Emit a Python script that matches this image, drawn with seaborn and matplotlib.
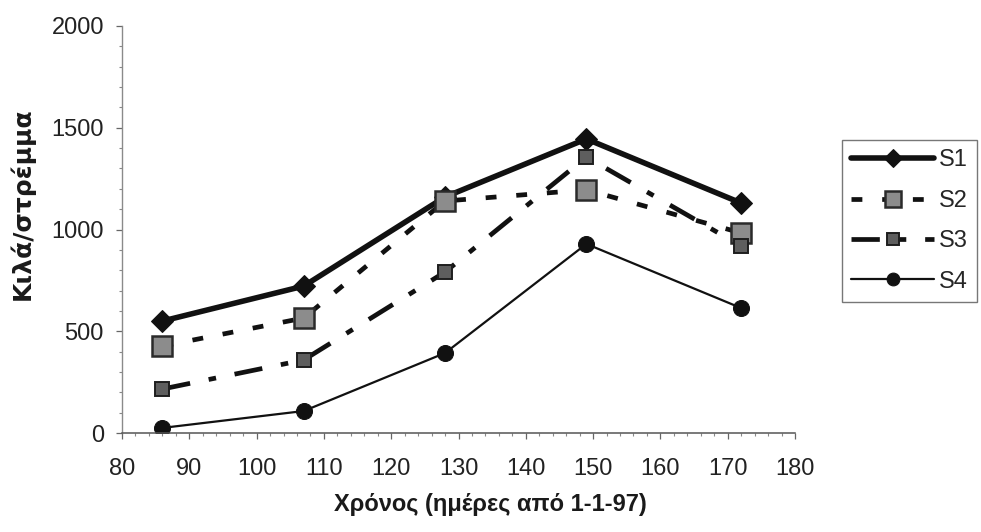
import matplotlib
matplotlib.use("Agg")
import matplotlib.pyplot as plt
import seaborn as sns
import pandas as pd
from matplotlib.ticker import MultipleLocator

days = [86, 107, 128, 149, 172]
s1 = [550, 722, 1160, 1445, 1130]
s2 = [427, 565, 1140, 1195, 983]
s3 = [216, 359, 791, 1356, 919]
s4 = [25, 108, 393, 929, 614]
series_names = ["S1", "S2", "S3", "S4"]

sns.set_theme(style="white")
plt.rcParams['font.family'] = ['Liberation Sans', 'DejaVu Sans']

W, H = 981, 532
fig = plt.figure(figsize=(W / 100, H / 100), dpi=100)
ax = fig.add_axes([122 / W, 1 - 433 / H, (795 - 122) / W, (433 - 26) / H])

ink = "#111111"
styles = {
    "S1": dict(color=ink, linewidth=4.0, linestyle="-", marker="D", markersize=11,
               markerfacecolor=ink, markeredgecolor=ink),
    "S2": dict(color=ink, linewidth=3.4, linestyle=(0, (2.3, 4.2)), marker="s", markersize=14,
               markerfacecolor="#8c8c8c", markeredgecolor="#2a2a2a", markeredgewidth=1.8),
    "S3": dict(color=ink, linewidth=3.4, linestyle=(0, (6, 4, 1.6, 4)), marker="s", markersize=10,
               markerfacecolor="#5e5e5e", markeredgecolor="#1e1e1e", markeredgewidth=1.4),
    "S4": dict(color=ink, linewidth=1.6, linestyle="-", marker="o", markersize=11.5,
               markerfacecolor=ink, markeredgecolor=ink),
}
data = {"S1": s1, "S2": s2, "S3": s3, "S4": s4}
for name in series_names:
    df = pd.DataFrame({"x": days, "y": data[name]})
    sns.lineplot(data=df, x="x", y="y", ax=ax, label=name, **styles[name])

ax.set_xlim(80, 180)
ax.set_ylim(0, 2000)
ax.xaxis.set_major_locator(MultipleLocator(10))
ax.xaxis.set_minor_locator(MultipleLocator(2))
ax.yaxis.set_major_locator(MultipleLocator(500))
ax.yaxis.set_minor_locator(MultipleLocator(100))
for s in ["top", "right"]:
    ax.spines[s].set_visible(False)
ax.spines["left"].set_color("#8a8a8a")
ax.spines["left"].set_linewidth(1.0)
ax.spines["bottom"].set_color("#555555")
ax.spines["bottom"].set_linewidth(1.1)
ax.tick_params(axis="x", which="major", direction="out", length=4, width=0.9,
               color="#666666", labelsize=17, labelcolor="#222222", bottom=True, pad=14)
ax.tick_params(axis="y", which="major", direction="out", length=4, width=0.9,
               color="#666666", labelsize=17, labelcolor="#222222", left=True, pad=9)
ax.tick_params(axis="both", which="minor", direction="out", length=2.5, width=0.8,
               color="#888888", left=True, bottom=True)

ax.set_xlabel("Χρόνος (ημέρες από 1-1-97)", fontsize=17, fontweight="bold", color="#1a1a1a")
ax.xaxis.set_label_coords((490 - 122) / 673, (433 - 504) / 407)
ax.xaxis.label.set_va("center")
ax.set_ylabel("Κιλά/στρέμμα", fontsize=18, fontweight="bold", color="#1a1a1a",
              family=["DejaVu Sans"])
ax.yaxis.set_label_coords((22 - 122) / 673, (433 - 204) / 407)
ax.yaxis.label.set_va("center")

leg = ax.legend(loc="upper left", bbox_to_anchor=(842 / W, 1 - 140 / H), bbox_transform=fig.transFigure,
                frameon=True, fontsize=17, handlelength=3.5, handletextpad=0.2,
                labelspacing=0.78, borderpad=0.4, borderaxespad=0, fancybox=False)
leg.get_frame().set_edgecolor("#555555")
leg.get_frame().set_linewidth(1.0)
for h in leg.legend_handles:
    h.set_markersize(h.get_markersize() * 0.8)

fig.savefig("out.png", dpi=100, facecolor="white")
